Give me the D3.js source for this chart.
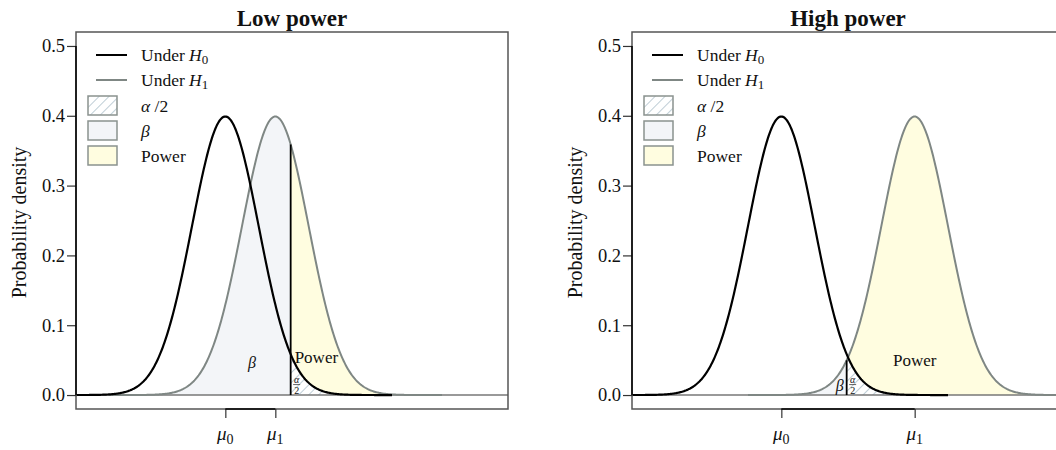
<!DOCTYPE html>
<html lang="en">
<head>
  <meta charset="UTF-8">
  <title>Power</title>
  <script src="https://d3js.org/d3.v7.min.js"></script>
  <style>
    body { margin: 0; background: #fff; }
    text { font-family: "Liberation Serif", "DejaVu Serif", serif; fill: #111; }
  </style>
</head>
<body>
<div id="chart"></div>
<script>
  // values
  const panelTitles = ["Low power", "High power"];
  const mu0 = [0, 0];
  const mu1 = [1.5, 4];
  const sd = 1;
  const critical = 1.96;
  const yTicks = [0, 0.1, 0.2, 0.3, 0.4, 0.5];
  const legendLines = ["H0", "H1"];
  const legendBoxes = ["alpha", "beta", "power"];

  const W = 1056, H = 450;
  const boxW = 432, plotTop = 32, plotBottom = 409;
  const panelLeft = [76, 632];

  const colFill = { beta: "#f3f5f8", power: "#fffde0", alpha: "#ffffff" };
  const h1Col = "#7f8784";

  const svg = d3.select("#chart").append("svg")
    .attr("width", W).attr("height", H);

  const defs = svg.append("defs");
  const pat = defs.append("pattern")
    .attr("id", "hatch")
    .attr("patternUnits", "userSpaceOnUse")
    .attr("width", 7).attr("height", 7)
    .attr("patternTransform", "rotate(45)");
  pat.append("rect").attr("width", 7).attr("height", 7).attr("fill", "#fff");
  pat.append("line").attr("x1", 0).attr("y1", 0).attr("x2", 0).attr("y2", 7)
    .attr("stroke", "#bfced6").attr("stroke-width", 2);

  function dnorm(x, m) {
    return Math.exp(-0.5 * ((x - m) / sd) ** 2) / (sd * Math.sqrt(2 * Math.PI));
  }

  // curve sampled from the density of each hypothesis
  function curve(m, a, b) {
    return d3.range(0, 401).map(i => {
      const x = a + (b - a) * i / 400;
      return [x, dnorm(x, m)];
    });
  }

  panelTitles.forEach((title, p) => {
    const left = panelLeft[p];
    const x = d3.scaleLinear().domain([-4.48, 8.48]).range([left, left + boxW]);
    const y = d3.scaleLinear().domain([-0.02, 0.52]).range([plotBottom, plotTop]);
    const g = svg.append("g");

    defs.append("clipPath").attr("id", "clip" + p)
      .append("rect").attr("x", left).attr("y", plotTop)
      .attr("width", boxW).attr("height", plotBottom - plotTop);
    const plot = g.append("g").attr("clip-path", `url(#clip${p})`);

    const area = d3.area().x(d => x(d[0])).y0(y(0)).y1(d => y(d[1]));
    const line = d3.line().x(d => x(d[0])).y(d => y(d[1]));

    // beta / power / alpha areas
    plot.append("path").datum(curve(mu1[p], mu1[p] - 5, critical))
      .attr("d", area).attr("fill", colFill.beta);
    plot.append("path").datum(curve(mu1[p], critical, mu1[p] + 5))
      .attr("d", area).attr("fill", colFill.power);
    plot.append("path").datum(curve(mu0[p], critical, mu0[p] + 5))
      .attr("d", area).attr("fill", "url(#hatch)");

    // zero line
    plot.append("line")
      .attr("x1", left).attr("x2", left + boxW)
      .attr("y1", y(0)).attr("y2", y(0))
      .attr("stroke", "#777").attr("stroke-width", 1.5);

    plot.append("path").datum(curve(mu1[p], mu1[p] - 5, mu1[p] + 5))
      .attr("d", line).attr("fill", "none")
      .attr("stroke", h1Col).attr("stroke-width", 2);
    plot.append("path").datum(curve(mu0[p], mu0[p] - 5, mu0[p] + 5))
      .attr("d", line).attr("fill", "none")
      .attr("stroke", "#000").attr("stroke-width", 2.2);

    // critical value line
    plot.append("line")
      .attr("x1", x(critical)).attr("x2", x(critical))
      .attr("y1", y(0)).attr("y2", y(dnorm(critical, mu1[p])))
      .attr("stroke", "#000").attr("stroke-width", 1.8);

    // box
    g.append("rect")
      .attr("x", left).attr("y", plotTop)
      .attr("width", boxW).attr("height", plotBottom - plotTop)
      .attr("fill", "none").attr("stroke", "#555").attr("stroke-width", 1.5);

    // y axis
    const yAxis = g.append("g").attr("transform", `translate(${left},0)`)
      .call(d3.axisLeft(y).tickValues(yTicks).tickFormat(d3.format(".1f")).tickSize(9).tickPadding(2));
    yAxis.select(".domain").remove();
    yAxis.append("line").attr("y1", y(0)).attr("y2", y(0.5))
      .attr("stroke", "#000").attr("stroke-width", 1.5);
    yAxis.selectAll(".tick line").attr("stroke", "#333").attr("stroke-width", 1.2);
    yAxis.selectAll(".tick text")
      .style("font-family", '"Liberation Serif", serif')
      .style("font-size", "18.5px").attr("fill", "#222");

    // x axis
    const xAxis = g.append("g").attr("transform", `translate(0,${plotBottom})`)
      .call(d3.axisBottom(x).tickValues([mu0[p], mu1[p]]).tickSize(9).tickFormat(""));
    xAxis.select(".domain").remove();
    xAxis.append("line").attr("x1", x(mu0[p])).attr("x2", x(mu1[p]))
      .attr("stroke", "#000").attr("stroke-width", 1.5);
    xAxis.selectAll(".tick line").attr("stroke", "#333").attr("stroke-width", 1.2);
    [[mu0[p], "0"], [mu1[p], "1"]].forEach(([v, s]) => {
      const t = g.append("text").attr("x", x(v)).attr("y", 440)
        .attr("text-anchor", "middle").style("font-size", "19px");
      t.append("tspan").style("font-style", "italic").text("μ");
      t.append("tspan").attr("dy", 4).style("font-size", "14px").text(s);
    });

    // titles
    g.append("text").attr("x", left + boxW / 2).attr("y", 26)
      .attr("text-anchor", "middle").style("font-weight", "bold")
      .style("font-size", "23px").text(title);
    g.append("text")
      .attr("transform", `translate(${left - 50},${(plotTop + plotBottom) / 2 + 2}) rotate(-90)`)
      .attr("text-anchor", "middle").style("font-size", "20px")
      .text("Probability density");

    // in-plot labels
    if (p === 0) {
      g.append("text").attr("x", x(0.8)).attr("y", y(0.046))
        .attr("text-anchor", "middle").attr("dominant-baseline", "central")
        .style("font-style", "italic").style("font-size", "16px").text("β");
      g.append("text").attr("x", x(critical) + 4).attr("y", y(0.054))
        .attr("dominant-baseline", "central").style("font-size", "17px").text("Power");
    } else {
      g.append("text").attr("x", x(critical) - 3).attr("y", y(0.014))
        .attr("text-anchor", "end").attr("dominant-baseline", "central")
        .style("font-style", "italic").style("font-size", "16px").text("β");
      g.append("text").attr("x", x(mu1[p])).attr("y", y(0.049))
        .attr("text-anchor", "middle").attr("dominant-baseline", "central")
        .style("font-size", "17px").text("Power");
    }
    // alpha/2 fraction
    const fx = x(critical) + 6, fy = y(0.015);
    g.append("text").attr("x", fx).attr("y", fy - 2).attr("text-anchor", "middle")
      .style("font-style", "italic").style("font-size", "10px").text("α");
    g.append("line").attr("x1", fx - 3.5).attr("x2", fx + 3.5).attr("y1", fy).attr("y2", fy)
      .attr("stroke", "#222").attr("stroke-width", 0.7);
    g.append("text").attr("x", fx).attr("y", fy + 9).attr("text-anchor", "middle")
      .style("font-size", "10px").text("2");

    // legend
    const lg = g.append("g").attr("transform", `translate(${left},0)`);
    legendLines.forEach((k, i) => {
      const cy = 55 + i * 25;
      lg.append("line").attr("x1", 20).attr("x2", 51).attr("y1", cy).attr("y2", cy)
        .attr("stroke", k === "H0" ? "#000" : h1Col).attr("stroke-width", 2);
      const t = lg.append("text").attr("x", 65).attr("y", cy + 6).style("font-size", "17.5px");
      t.append("tspan").text("Under ");
      t.append("tspan").style("font-style", "italic").text("H");
      t.append("tspan").attr("dy", 3).style("font-size", "13px").text(k[1]);
    });
    legendBoxes.forEach((k, i) => {
      const cy = 105.5 + i * 25;
      lg.append("rect").attr("x", 12).attr("y", cy - 9.5).attr("width", 29).attr("height", 19)
        .attr("fill", k === "alpha" ? "url(#hatch)" : colFill[k])
        .attr("stroke", "#8a928f").attr("stroke-width", 1.5);
      const t = lg.append("text").attr("x", 65).attr("y", cy + 6).style("font-size", "17.5px");
      if (k === "alpha") {
        t.append("tspan").style("font-style", "italic").text("α");
        t.append("tspan").text(" /2");
      } else if (k === "beta") {
        t.append("tspan").style("font-style", "italic").text("β");
      } else {
        t.text("Power");
      }
    });
  });
</script>
</body>
</html>
